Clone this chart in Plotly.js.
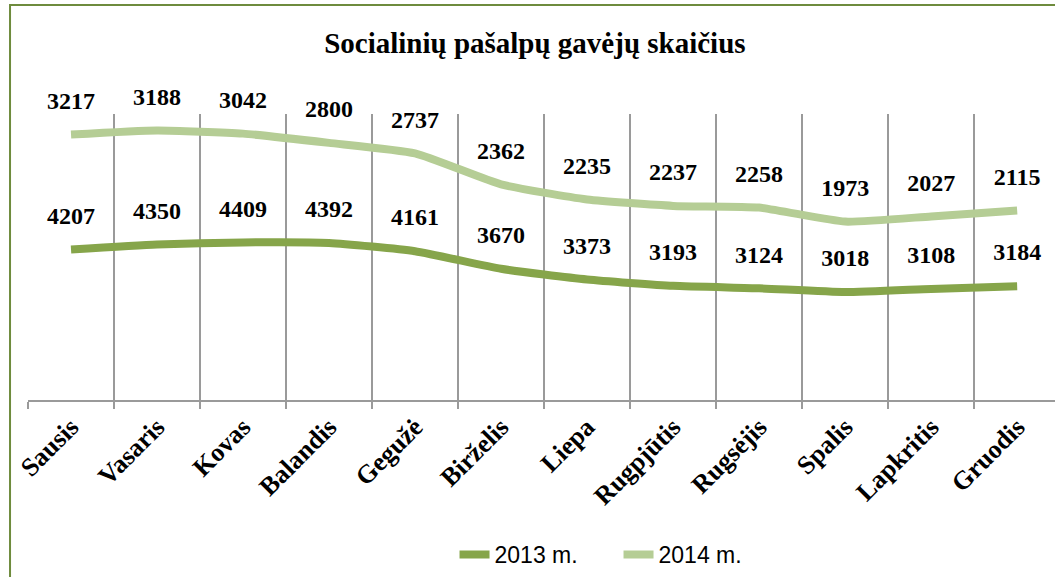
<!DOCTYPE html>
<html>
<head>
<meta charset="utf-8">
<script src="https://cdn.plot.ly/plotly-3.0.1.min.js"></script>
<style>html,body{margin:0;padding:0;background:#fff;}#chart{width:1055px;height:577px;}</style>
</head>
<body>
<div id="chart"></div>
<script>
const months = ["Sausis","Vasaris","Kovas","Balandis","Gegužė","Birželis","Liepa","Rugpjūtis","Rugsėjis","Spalis","Lapkritis","Gruodis"];
const values2013 = [4207,4350,4409,4392,4161,3670,3373,3193,3124,3018,3108,3184];
const values2014 = [3217,3188,3042,2800,2737,2362,2235,2237,2258,1973,2027,2115];
const seriesNames = ["2013 m.","2014 m."];

function makeTrace(name, vals, color) {
  return {
    type: "scatter",
    mode: "lines+markers+text",
    name: name,
    x: months,
    y: vals,
    stackgroup: "one",
    fill: "none",
    line: {color: color, width: 8, shape: "spline", smoothing: 0.5},
    marker: {size: 30, color: "rgba(0,0,0,0)", line: {width: 0}},
    text: vals.map(v => "<b>" + v + "</b>"),
    textposition: "top center",
    textfont: {family: "Liberation Serif", size: 24, color: "#000", weight: "bold"},
    hoverinfo: "skip",
    cliponaxis: false
  };
}

const data = [
  makeTrace(seriesNames[0], values2013, "#86A54A"),
  makeTrace(seriesNames[1], values2014, "#B5CD95")
];

const layout = {
  width: 1055,
  height: 577,
  margin: {l: 28, r: 0, t: 114, b: 177},
  paper_bgcolor: "#fff",
  plot_bgcolor: "#fff",
  showlegend: true,
  title: {
    text: "<b>Socialinių pašalpų gavėjų skaičius</b>",
    font: {family: "Liberation Serif", size: 29, color: "#000"},
    x: 0.507, xanchor: "center", xref: "container",
    y: 0.925, yanchor: "middle", yref: "container"
  },
  xaxis: {
    type: "category",
    range: [-0.5, 11.44],
    tickson: "boundaries",
    showgrid: true,
    gridcolor: "#9a9a9a",
    gridwidth: 1.5,
    showline: true,
    linecolor: "#9a9a9a",
    linewidth: 1.5,
    ticks: "outside",
    ticklen: 7,
    tickcolor: "#9a9a9a",
    tickwidth: 1.5,
    tickangle: -45,
    tickfont: {family: "Liberation Serif", size: 26, color: "#000"},
    tickprefix: "<b>", ticksuffix: "</b>",
    fixedrange: true
  },
  yaxis: {
    range: [0, 8000],
    visible: false,
    showgrid: false,
    zeroline: false,
    fixedrange: true
  },
  legend: {
    orientation: "h",
    x: 0.575, xanchor: "center", xref: "paper",
    y: -0.54, yanchor: "middle", yref: "paper",
    font: {family: "Liberation Sans", size: 23, color: "#000"},
    entrywidth: 119,
    bgcolor: "rgba(0,0,0,0)",
    traceorder: "normal"
  },
  shapes: [{
    type: "rect", xref: "paper", yref: "paper",
    x0: -0.0175, x1: 1.02, y0: -0.7, y1: 1.381,
    line: {color: "#6E8B3D", width: 2},
    fillcolor: "rgba(0,0,0,0)",
    layer: "above"
  }],
  hovermode: false
};

Plotly.newPlot("chart", data, layout, {displayModeBar: false, staticPlot: true});
</script>
</body>
</html>
